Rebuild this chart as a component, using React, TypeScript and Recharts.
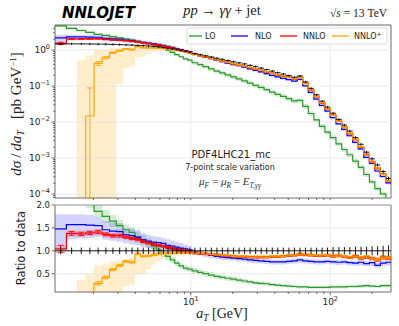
import React from 'react';
import { ComposedChart, Line, Area, Scatter, ErrorBar, XAxis, YAxis, ReferenceLine, ReferenceArea } from 'recharts';

// bin edges in a_T [GeV]
const edges = [
  1.06, 1.28, 1.52, 1.76, 2.02, 2.31, 2.61, 2.92, 3.26, 3.61,
  3.97, 4.36, 4.76, 5.2, 5.66, 6.13, 6.61, 7.12, 7.66, 8.23,
  8.83, 9.5, 10.2, 11.2, 12.2, 13.4, 14.7, 16.1, 17.6, 19.3,
  21.2, 23.2, 25.4, 27.9, 30.5, 33.5, 36.7, 40.2, 44, 48.3,
  52.9, 58, 63.5, 69.6, 76.3, 83.6, 91.6, 100, 110, 121,
  132, 145, 159, 174, 191, 209, 229, 251, 273,
];

// measured cross section [pb/GeV] and its relative error
const xsec = [
  1.47, 1.48, 1.48, 1.47, 1.46, 1.45, 1.43, 1.41, 1.39, 1.37,
  1.34, 1.32, 1.29, 1.26, 1.22, 1.17, 1.12, 1.07, 1.02, 0.97,
  0.92, 0.87, 0.79, 0.74, 0.69, 0.64, 0.59, 0.55, 0.51, 0.47,
  0.44, 0.41, 0.375, 0.345, 0.315, 0.285, 0.26, 0.235, 0.215, 0.195,
  0.175, 0.19, 0.13, 0.086, 0.057, 0.038, 0.026, 0.0175, 0.0118, 0.0082,
  0.0056, 0.0037, 0.0024, 0.00145, 0.00095, 0.00064, 0.00042, 0.00027,
];
const xsecErr = [
  0.08, 0.07, 0.07, 0.07, 0.07, 0.07, 0.07, 0.07, 0.07, 0.07,
  0.07, 0.07, 0.07, 0.07, 0.07, 0.07, 0.07, 0.07, 0.07, 0.07,
  0.07, 0.07, 0.07, 0.07, 0.07, 0.07, 0.07, 0.07, 0.07, 0.07,
  0.07, 0.07, 0.07, 0.07, 0.07, 0.07, 0.07, 0.07, 0.07, 0.07,
  0.07, 0.07, 0.07, 0.07, 0.07, 0.07, 0.07, 0.08, 0.08, 0.08,
  0.08, 0.09, 0.09, 0.09, 0.1, 0.1, 0.11, 0.12,
];

// theory / data
const loRatio = [
  3.2, 2.7, 2.35, 2.1, 1.86, 1.75, 1.65, 1.55, 1.46, 1.4,
  1.3, 1.24, 1.17, 1.1, 1.02, 0.95, 0.88, 0.8, 0.73, 0.67,
  0.62, 0.6, 0.56, 0.53, 0.5, 0.47, 0.44, 0.42, 0.4, 0.38,
  0.36, 0.34, 0.32, 0.3, 0.29, 0.28, 0.26, 0.25, 0.24, 0.23,
  0.22, 0.21, 0.21, 0.2, 0.2, 0.2, 0.2, 0.21, 0.21, 0.21,
  0.22, 0.22, 0.23, 0.24, 0.23, 0.22, 0.24, 0.24,
];
const loUnc = [
  0.08, 0.08, 0.08, 0.08, 0.08, 0.08, 0.08, 0.08, 0.08, 0.08,
  0.09, 0.09, 0.09, 0.09, 0.09, 0.09, 0.09, 0.09, 0.09, 0.09,
  0.1, 0.1, 0.12, 0.12, 0.12, 0.13, 0.13, 0.13, 0.14, 0.14,
  0.14, 0.14, 0.14, 0.14, 0.14, 0.14, 0.14, 0.14, 0.14, 0.14,
  0.15, 0.15, 0.15, 0.15, 0.15, 0.15, 0.15, 0.15, 0.15, 0.15,
  0.15, 0.15, 0.15, 0.15, 0.15, 0.15, 0.15, 0.15,
];

const nloRatio = [
  1.48, 1.57, 1.57, 1.56, 1.55, 1.46, 1.43, 1.42, 1.35, 1.33,
  1.3, 1.24, 1.21, 1.19, 1.18, 1.16, 1.12, 1.1, 1.08, 1.06,
  1.04, 1.02, 0.98, 0.95, 0.92, 0.9, 0.88, 0.86, 0.85, 0.84,
  0.83, 0.82, 0.8, 0.79, 0.78, 0.77, 0.76, 0.76, 0.76, 0.77,
  0.78, 0.8, 0.78, 0.77, 0.76, 0.76, 0.77, 0.76, 0.75, 0.76,
  0.74, 0.73, 0.75, 0.72, 0.74, 0.68, 0.73, 0.75,
];
const nloLow = [
  1.0, 1.25, 1.27, 1.28, 1.3, 1.24, 1.22, 1.2, 1.16, 1.14,
  1.12, 1.08, 1.06, 1.04, 1.03, 1.01, 0.99, 0.98, 0.96, 0.95,
  0.94, 0.92, 0.92, 0.89, 0.86, 0.84, 0.82, 0.8, 0.79, 0.78,
  0.77, 0.76, 0.74, 0.73, 0.72, 0.71, 0.7, 0.7, 0.7, 0.71,
  0.72, 0.74, 0.72, 0.71, 0.7, 0.7, 0.71, 0.7, 0.69, 0.7,
  0.68, 0.67, 0.68, 0.66, 0.67, 0.62, 0.66, 0.68,
];
const nloHigh = [
  1.8, 1.8, 1.8, 1.78, 1.72, 1.65, 1.62, 1.6, 1.52, 1.49,
  1.46, 1.38, 1.35, 1.32, 1.3, 1.28, 1.25, 1.22, 1.2, 1.17,
  1.14, 1.11, 1.03, 1.0, 0.97, 0.95, 0.93, 0.91, 0.9, 0.89,
  0.88, 0.87, 0.85, 0.84, 0.83, 0.82, 0.81, 0.81, 0.81, 0.82,
  0.83, 0.85, 0.83, 0.82, 0.81, 0.81, 0.82, 0.81, 0.8, 0.81,
  0.79, 0.78, 0.8, 0.77, 0.79, 0.74, 0.78, 0.8,
];

const nnloRatio = [
  1.04, 1.38, 1.37, 1.39, 1.41, 1.36, 1.33, 1.33, 1.3, 1.27,
  1.25, 1.2, 1.17, 1.14, 1.12, 1.1, 1.07, 1.05, 1.03, 1.01,
  1.0, 0.98, 0.95, 0.94, 0.93, 0.92, 0.91, 0.9, 0.89, 0.88,
  0.87, 0.87, 0.86, 0.86, 0.86, 0.86, 0.87, 0.87, 0.88, 0.89,
  0.9, 0.92, 0.91, 0.9, 0.89, 0.89, 0.9, 0.88, 0.89, 0.87,
  0.85, 0.88, 0.84, 0.86, 0.83, 0.8, 0.85, 0.84,
];
const nnloUnc = [
  0.08, 0.05, 0.05, 0.05, 0.05, 0.05, 0.05, 0.05, 0.05, 0.05,
  0.05, 0.04, 0.04, 0.04, 0.04, 0.04, 0.04, 0.04, 0.04, 0.04,
  0.04, 0.04, 0.03, 0.03, 0.03, 0.03, 0.03, 0.03, 0.03, 0.03,
  0.03, 0.03, 0.03, 0.03, 0.03, 0.03, 0.03, 0.03, 0.03, 0.03,
  0.03, 0.03, 0.03, 0.03, 0.03, 0.03, 0.03, 0.03, 0.03, 0.03,
  0.03, 0.03, 0.03, 0.03, 0.03, 0.03, 0.03, 0.03,
];
const nnloErr = [
  0.08, 0.04, 0.035, 0.035, 0.035, 0.03, 0.03, 0.03, 0.025, 0.025,
  0.02, 0.02, 0.02, 0.02, 0.02, 0.02, 0.02, 0.02, 0.02, 0.02,
  0.02, 0.02, 0.015, 0.015, 0.015, 0.015, 0.015, 0.015, 0.015, 0.015,
  0.015, 0.015, 0.015, 0.015, 0.015, 0.015, 0.015, 0.015, 0.015, 0.015,
  0.015, 0.02, 0.015, 0.015, 0.015, 0.015, 0.015, 0.02, 0.02, 0.02,
  0.02, 0.02, 0.025, 0.025, 0.025, 0.03, 0.03, 0.03,
];

// NNLO+ : first bins negative / empty
const nnlopRatio = [
  null, null, 1e-6, 0.01, 0.29, 0.42, 0.59, 0.68, 0.77, 0.75,
  0.93, 0.88, 0.89, 0.91, 0.93, 0.94, 0.95, 0.95, 0.96, 0.96,
  0.96, 0.96, 0.96, 0.95, 0.94, 0.93, 0.92, 0.91, 0.9, 0.89,
  0.88, 0.88, 0.87, 0.87, 0.87, 0.87, 0.88, 0.88, 0.89, 0.9,
  0.91, 0.93, 0.92, 0.91, 0.9, 0.9, 0.91, 0.89, 0.9, 0.88,
  0.86, 0.89, 0.85, 0.87, 0.84, 0.81, 0.86, 0.85,
];
const nnlopLow = [
  null, null, 0, 0, 0, 0, 0, 0.08, 0.22, 0.26,
  0.47, 0.5, 0.6, 0.7, 0.78, 0.82, 0.85, 0.87, 0.89, 0.9,
  0.91, 0.91, 0.92, 0.91, 0.9, 0.89, 0.88, 0.87, 0.86, 0.85,
  0.84, 0.84, 0.83, 0.83, 0.83, 0.83, 0.84, 0.84, 0.85, 0.86,
  0.87, 0.89, 0.88, 0.87, 0.86, 0.86, 0.87, 0.85, 0.86, 0.84,
  0.82, 0.85, 0.81, 0.83, 0.8, 0.77, 0.82, 0.81,
];
const nnlopHigh = [
  null, null, 0.36, 0.49, 0.68, 0.72, 0.78, 0.8, 0.82, 0.84,
  0.98, 0.96, 0.97, 0.98, 0.99, 0.99, 1.0, 1.0, 1.0, 1.0,
  1.0, 0.99, 0.99, 0.98, 0.97, 0.96, 0.95, 0.94, 0.93, 0.92,
  0.91, 0.91, 0.9, 0.9, 0.9, 0.9, 0.91, 0.91, 0.92, 0.93,
  0.94, 0.96, 0.95, 0.94, 0.93, 0.93, 0.94, 0.92, 0.93, 0.91,
  0.89, 0.92, 0.88, 0.9, 0.87, 0.84, 0.89, 0.88,
];
const nnlopErr = [
  0, 0, 0, 0.05, 0.035, 0.03, 0.025, 0.025, 0.02, 0.02,
  0.015, 0.015, 0.015, 0.015, 0.015, 0.015, 0.015, 0.015, 0.015, 0.015,
  0.015, 0.015, 0.015, 0.015, 0.015, 0.015, 0.015, 0.015, 0.015, 0.015,
  0.015, 0.015, 0.015, 0.015, 0.015, 0.015, 0.015, 0.015, 0.015, 0.015,
  0.015, 0.02, 0.015, 0.015, 0.015, 0.015, 0.015, 0.02, 0.02, 0.02,
  0.02, 0.02, 0.025, 0.025, 0.025, 0.03, 0.03, 0.03,
];

const C = { lo: '#2a9a2a', nlo: '#0000ff', nnlo: '#ff0000', nnlop: '#ffa500', data: '#000' };

const X_MIN = 1.06, X_MAX = 273;
const Y_MIN = 7.74e-5, Y_MAX = 4.95;
const R_MIN = 0.1, R_MAX = 2.0;
const TINY = 1e-7;

const nBins = xsec.length;
const at = (k: number) => Math.min(k, nBins - 1);

// step rows at every bin edge (last edge repeats the last bin)
const ratioRows = edges.map((x, k) => {
  const i = at(k);
  return {
    x,
    lo: loRatio[i],
    nlo: nloRatio[i],
    nnlo: nnloRatio[i],
    nnlop: nnlopRatio[i],
    loBand: [loRatio[i] * (1 - loUnc[i]), loRatio[i] * (1 + loUnc[i])],
    nloBand: [nloLow[i], nloHigh[i]],
    nnloBand: [nnloRatio[i] * (1 - nnloUnc[i]), nnloRatio[i] * (1 + nnloUnc[i])],
    nnlopBand: nnlopLow[i] == null ? null : [nnlopLow[i], nnlopHigh[i]],
  };
});

const toMain = (v: any, d: number): any =>
  v == null ? null : Array.isArray(v) ? v.map((u: number) => Math.max(u * d, TINY)) : Math.max(v * d, TINY);

const mainRows = ratioRows.map((r: any, k) => {
  const d = xsec[at(k)];
  const out: any = { x: r.x };
  Object.keys(r).forEach((key) => { if (key !== 'x') out[key] = toMain(r[key], d); });
  return out;
});

const centers = xsec.map((_, i) => Math.sqrt(edges[i] * edges[i + 1]));
const xHalf = centers.map((c, i) => [c - edges[i], edges[i + 1] - c]);

const dataMain = xsec.map((d, i) => ({ x: centers[i], y: d, xe: xHalf[i], ye: d * xsecErr[i] }));
const dataRatio = xsec.map((_, i) => ({ x: centers[i], y: 1, xe: xHalf[i], ye: xsecErr[i] }));

const errMain = (ratio: (number | null)[], err: number[]) =>
  ratio.flatMap((r, i) => {
    if (r == null || !err[i]) return [];
    const y = xsec[i] * r, e = xsec[i] * err[i];
    return [{ x: centers[i], y, ye: [Math.min(e, y - Y_MIN), e] }];
  });
const errRatio = (ratio: (number | null)[], err: number[]) =>
  ratio.flatMap((r, i) => (r == null || !err[i] || r < R_MIN ? [] : [{ x: centers[i], y: r, ye: [err[i], err[i]] }]));

// axis ticks
const decades = [1e-5, 1e-4, 1e-3, 1e-2, 1e-1, 1, 10, 100];
const logTicks = (lo: number, hi: number) =>
  decades.flatMap((d) => [1, 2, 3, 4, 5, 6, 7, 8, 9].map((m) => m * d)).filter((v) => v >= lo && v <= hi);
const xTicks = logTicks(X_MIN, X_MAX);
const yTicksMain = logTicks(Y_MIN, Y_MAX);
const yTicksRatio = [0.5, 1.0, 1.5, 2.0];

const isMajor = (v: number) => Math.abs(Math.log10(v) - Math.round(Math.log10(v))) < 1e-6;
const expOf = (v: number) => {
  const e = Math.round(Math.log10(v));
  return e < 0 ? `\u2212${-e}` : `${e}`;
};

const XTick = ({ x, y, payload, labels }: any) => {
  const major = isMajor(payload.value);
  return (
    <g>
      <line x1={x} x2={x} y1={y} y2={y + (major ? 3.5 : 2)} stroke="#333" strokeWidth={0.7} />
      {labels && major && (
        <text x={x} y={y + 13} textAnchor="middle" fontSize={9} fill="#222" fontFamily="DejaVu Sans">
          10<tspan dy={-4} fontSize={6.5}>{expOf(payload.value)}</tspan>
        </text>
      )}
    </g>
  );
};

const LogYTick = ({ x, y, payload }: any) => {
  const major = isMajor(payload.value);
  return (
    <g>
      <line x1={x} x2={x - (major ? 3.5 : 2)} y1={y} y2={y} stroke="#333" strokeWidth={0.7} />
      {major && (
        <text x={x - 5} y={y + 3} textAnchor="end" fontSize={9} fill="#222" fontFamily="DejaVu Sans">
          10<tspan dy={-4} fontSize={6.5}>{expOf(payload.value)}</tspan>
        </text>
      )}
    </g>
  );
};

const RatioYTick = ({ x, y, payload }: any) => (
  <g>
    <line x1={x} x2={x - 3.5} y1={y} y2={y} stroke="#333" strokeWidth={0.7} />
    <text x={x - 5} y={y + 3} textAnchor="end" fontSize={8.5} fill="#222" fontFamily="DejaVu Sans">
      {payload.value.toFixed(1)}
    </text>
  </g>
);

const GRID = '#e4e4e4';

const bands = (
  [
    ['loBand', C.lo, 0.2],
    ['nloBand', C.nlo, 0.17],
    ['nnloBand', C.nnlo, 0.17],
    ['nnlopBand', C.nnlop, 0.2],
  ] as const
).map(([k, c, o]) => (
  <Area key={k} type="stepAfter" dataKey={k} stroke="none" strokeWidth={0} fill={c} fillOpacity={o}
    dot={false} activeDot={false} isAnimationActive={false} />
));

const lines = (
  [
    ['lo', C.lo],
    ['nlo', C.nlo],
    ['nnlo', C.nnlo],
    ['nnlop', C.nnlop],
  ] as const
).map(([k, c]) => (
  <Line key={k} type="stepAfter" dataKey={k} stroke={c} strokeWidth={1.2} dot={false} activeDot={false}
    isAnimationActive={false} />
));

const noShape = () => <g />;

function MainPanel() {
  return (
    <ComposedChart width={399} height={200} data={mainRows} margin={{ top: 25, right: 8, bottom: 0, left: 0 }}>
      <XAxis type="number" dataKey="x" scale="log" domain={[X_MIN, X_MAX]} allowDataOverflow ticks={xTicks}
        interval={0} tickSize={0} tickMargin={0} axisLine={false} tickLine={false} height={2}
        tick={(p: any) => <XTick {...p} labels={false} />} />
      <YAxis type="number" scale="log" domain={[Y_MIN, Y_MAX]} allowDataOverflow ticks={yTicksMain} interval={0}
        tickSize={0} tickMargin={0} axisLine={false} tickLine={false} width={55}
        tick={(p: any) => <LogYTick {...p} />} />
      {[1e-4, 1e-3, 1e-2, 1e-1, 1].map((v) => (
        <ReferenceLine key={`h${v}`} y={v} stroke={GRID} strokeWidth={0.8} />
      ))}
      {[10, 100].map((v) => (
        <ReferenceLine key={`v${v}`} x={v} stroke={GRID} strokeWidth={0.8} />
      ))}
      {bands}
      {lines}
      <Scatter data={errMain(nnloRatio, nnloErr)} dataKey="y" shape={noShape} isAnimationActive={false}>
        <ErrorBar dataKey="ye" direction="y" width={3} stroke={C.nnlo} strokeWidth={0.9} />
      </Scatter>
      <Scatter data={errMain(nnlopRatio, nnlopErr)} dataKey="y" shape={noShape} isAnimationActive={false}>
        <ErrorBar dataKey="ye" direction="y" width={3} stroke={C.nnlop} strokeWidth={0.9} />
      </Scatter>
      <Scatter data={dataMain} dataKey="y" shape={noShape} isAnimationActive={false}>
        <ErrorBar dataKey="xe" direction="x" width={0} stroke={C.data} strokeWidth={0.9} />
        <ErrorBar dataKey="ye" direction="y" width={0} stroke={C.data} strokeWidth={0.9} />
      </Scatter>
      <ReferenceArea x1={X_MIN} x2={X_MAX} y1={Y_MIN} y2={Y_MAX} fill="none" stroke="#444" strokeWidth={0.8} />
    </ComposedChart>
  );
}

function RatioPanel() {
  return (
    <ComposedChart width={399} height={126} data={ratioRows} margin={{ top: 5, right: 8, bottom: 0, left: 0 }}>
      <XAxis type="number" dataKey="x" scale="log" domain={[X_MIN, X_MAX]} allowDataOverflow ticks={xTicks}
        interval={0} tickSize={0} tickMargin={0} axisLine={false} tickLine={false} height={34}
        tick={(p: any) => <XTick {...p} labels />} />
      <YAxis type="number" domain={[R_MIN, R_MAX]} allowDataOverflow ticks={yTicksRatio} interval={0}
        tickSize={0} tickMargin={0} axisLine={false} tickLine={false} width={55}
        tick={(p: any) => <RatioYTick {...p} />} />
      {yTicksRatio.map((v) => (
        <ReferenceLine key={`h${v}`} y={v} stroke={GRID} strokeWidth={0.8} />
      ))}
      {[10, 100].map((v) => (
        <ReferenceLine key={`v${v}`} x={v} stroke={GRID} strokeWidth={0.8} />
      ))}
      {bands}
      {lines}
      <Scatter data={errRatio(nnloRatio, nnloErr)} dataKey="y" shape={noShape} isAnimationActive={false}>
        <ErrorBar dataKey="ye" direction="y" width={3} stroke={C.nnlo} strokeWidth={0.9} />
      </Scatter>
      <Scatter data={errRatio(nnlopRatio, nnlopErr)} dataKey="y" shape={noShape} isAnimationActive={false}>
        <ErrorBar dataKey="ye" direction="y" width={3} stroke={C.nnlop} strokeWidth={0.9} />
      </Scatter>
      <Scatter data={dataRatio} dataKey="y" shape={noShape} isAnimationActive={false}>
        <ErrorBar dataKey="xe" direction="x" width={0} stroke={C.data} strokeWidth={0.9} />
        <ErrorBar dataKey="ye" direction="y" width={0} stroke={C.data} strokeWidth={0.9} />
      </Scatter>
      <ReferenceArea x1={X_MIN} x2={X_MAX} y1={R_MIN} y2={R_MAX} fill="none" stroke="#444" strokeWidth={0.8} />
    </ComposedChart>
  );
}

const SERIF = 'Liberation Serif';
const SANS = 'DejaVu Sans';
const legendItems = [
  { label: 'LO', color: C.lo, x1: 189, x2: 202, tx: 205 },
  { label: 'NLO', color: C.nlo, x1: 231, x2: 248, tx: 255 },
  { label: 'NNLO', color: C.nnlo, x1: 280, x2: 297, tx: 303 },
  { label: 'NNLO', color: C.nnlop, x1: 332, x2: 349, tx: 354, plus: true },
];

function Labels() {
  return (
    <svg width={399} height={326} style={{ position: 'absolute', left: 0, top: 0, pointerEvents: 'none' }}>
      <text x={62} y={18} fontFamily={SANS} fontWeight="bold" fontStyle="italic" fontSize={15} fill="#000">
        NNLOJET
      </text>
      <text x={222} y={15} textAnchor="middle" fontFamily={SERIF} fontSize={14.5} fill="#222">
        <tspan fontStyle="italic">pp</tspan>
        <tspan>{'\u00a0\u2192\u00a0'}</tspan>
        <tspan fontStyle="italic">{'\u03b3\u03b3'}</tspan>
        <tspan>{'\u00a0+\u00a0jet'}</tspan>
      </text>
      <text x={330} y={17} fontFamily={SERIF} fontSize={11.5} fill="#222">
        <tspan>{'\u221a'}</tspan>
        <tspan fontStyle="italic">s</tspan>
        <tspan>{'\u00a0=\u00a013\u00a0TeV'}</tspan>
      </text>

      <rect x={187} y={28} width={200} height={16} rx={2} fill="#fff" fillOpacity={0.85} stroke="#d0d0d0" strokeWidth={0.8} />
      {legendItems.map((it, i) => (
        <g key={i}>
          <line x1={it.x1} x2={it.x2} y1={36} y2={36} stroke={it.color} strokeWidth={1.3} />
          <text x={it.tx} y={39} fontFamily={SANS} fontSize={8} fill="#222">
            {it.label}
            {it.plus && <tspan dy={-3} fontSize={6}>+</tspan>}
          </text>
        </g>
      ))}

      <text x={231} y={158} textAnchor="middle" fontFamily={SANS} fontSize={10} fill="#222">PDF4LHC21_mc</text>
      <text x={230} y={170} textAnchor="middle" fontFamily={SANS} fontSize={8} fill="#222">7-point scale variation</text>
      <text x={230} y={185} textAnchor="middle" fontFamily={SERIF} fontSize={11} fill="#333" fontStyle="italic">
        <tspan>{'\u03bc'}</tspan>
        <tspan fontSize={7.5} dy={2.5}>F</tspan>
        <tspan dy={-2.5} fontStyle="normal">{'\u00a0=\u00a0'}</tspan>
        <tspan>{'\u03bc'}</tspan>
        <tspan fontSize={7.5} dy={2.5}>R</tspan>
        <tspan dy={-2.5} fontStyle="normal">{'\u00a0=\u00a0'}</tspan>
        <tspan>E</tspan>
        <tspan fontSize={7.5} dy={2.5}>{'T,\u03b3\u03b3'}</tspan>
      </text>

      <text transform="translate(21,114) rotate(-90)" textAnchor="middle" fontFamily={SERIF} fontSize={15} fill="#222">
        <tspan fontStyle="italic">{'d\u03c3'}</tspan>
        <tspan>{'\u2009/\u2009'}</tspan>
        <tspan fontStyle="italic">da</tspan>
        <tspan fontStyle="italic" fontSize={10} dy={3}>T</tspan>
        <tspan dy={-3}>{'\u00a0\u00a0\u00a0[pb\u00a0GeV'}</tspan>
        <tspan fontSize={9} dy={-5}>{'\u22121'}</tspan>
        <tspan dy={5}>]</tspan>
      </text>
      <text transform="translate(25,248) rotate(-90)" textAnchor="middle" fontFamily={SANS} fontSize={11.5} fill="#222">
        Ratio to data
      </text>
      <text x={222} y={318} textAnchor="middle" fontFamily={SERIF} fontSize={14} fill="#222">
        <tspan fontStyle="italic">a</tspan>
        <tspan fontStyle="italic" fontSize={9.5} dy={3}>T</tspan>
        <tspan dy={-3}>{'\u00a0[GeV]'}</tspan>
      </text>
    </svg>
  );
}

export default function App() {
  return (
    <div style={{ position: 'absolute', left: 0, top: 0, width: 399, height: 326, background: '#fff', overflow: 'hidden' }}>
      <div style={{ position: 'absolute', left: 0, top: 0 }}>
        <MainPanel />
      </div>
      <div style={{ position: 'absolute', left: 0, top: 200 }}>
        <RatioPanel />
      </div>
      <Labels />
    </div>
  );
}
